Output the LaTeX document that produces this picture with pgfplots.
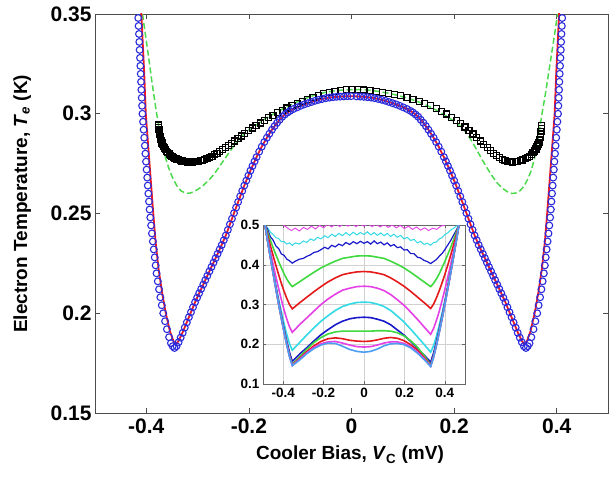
\documentclass[border=0pt]{standalone}
\usepackage{pgfplots}
\pgfplotsset{compat=1.18}
\usepackage{fontspec}
\setmainfont{Liberation Sans}
\definecolor{mblue}{rgb}{0.17,0.17,0.86}
\definecolor{mred}{rgb}{0.92,0.10,0.15}
\definecolor{mgreen}{rgb}{0.30,0.85,0.30}
\definecolor{ilb}{rgb}{0.30,0.62,0.95}
\definecolor{imag}{rgb}{0.90,0.25,0.90}
\definecolor{ired}{rgb}{0.90,0.10,0.10}
\definecolor{igreen}{rgb}{0.25,0.85,0.25}
\definecolor{iblue}{rgb}{0.10,0.10,0.80}
\definecolor{icyan}{rgb}{0.20,0.85,0.90}
\begin{document}
\begin{tikzpicture}[x=1pt,y=1pt]
\path[use as bounding box] (0,0) rectangle (609,477);
\begin{axis}[
  at={(95pt,64pt)}, anchor=south west,
  width=513pt, height=399pt, scale only axis,
  xmin=-0.5, xmax=0.5, ymin=0.15, ymax=0.35,
  xtick={-0.4,-0.2,0,0.2,0.4},
  xticklabels={-0.4,-0.2,0,0.2,0.4},
  ytick={0.15,0.2,0.25,0.3,0.35},
  yticklabels={0.15,0.2,0.25,0.3,0.35},
  tick align=inside, major tick length=5pt,
  axis line style={draw=black!70, line width=0.8pt},
  tick style={draw=black!70, line width=0.7pt},
  tick label style={font=\fontsize{21}{24}\selectfont\bfseries},
  xticklabel style={yshift=-2pt},
  xlabel={Cooler Bias, \textit{V}\textsubscript{C} (mV)},
  ylabel={Electron Temperature, \textit{T}\textsubscript{\textit{e}} (K)},
  label style={font=\fontsize{19}{22}\selectfont\bfseries},
  xlabel style={at={(axis description cs:0.497,-0.105)}, anchor=center},
  ylabel style={at={(axis description cs:-0.142,0.524)}, anchor=center},
]
% black squares (data)
\addplot[only marks, mark=square, mark size=3pt, mark options={line width=1.25pt, draw=black}] coordinates {
(-0.3765,0.2944) (-0.3760,0.2932) (-0.3754,0.2920) (-0.3747,0.2908) (-0.3739,0.2896) (-0.3730,0.2885) (-0.3720,0.2874) (-0.3708,0.2864) (-0.3695,0.2854) (-0.3680,0.2845) (-0.3663,0.2836) (-0.3645,0.2828) (-0.3625,0.2820) (-0.3603,0.2812) (-0.3580,0.2805) (-0.3555,0.2798) (-0.3528,0.2792) (-0.3500,0.2787) (-0.3470,0.2782) (-0.3440,0.2777) (-0.3408,0.2773) (-0.3375,0.2769) (-0.3340,0.2766) (-0.3305,0.2763) (-0.3268,0.2761) (-0.3230,0.2759) (-0.3190,0.2758) (-0.3150,0.2758) (-0.3110,0.2758) (-0.3070,0.2759) (-0.3030,0.2760) (-0.2990,0.2762) (-0.2950,0.2764) (-0.2905,0.2767) (-0.2860,0.2771) (-0.2815,0.2776) (-0.2770,0.2781) (-0.2720,0.2787) (-0.2670,0.2794) (-0.2620,0.2802) (-0.2570,0.2810) (-0.2515,0.2819) (-0.2460,0.2829) (-0.2400,0.2840) (-0.2340,0.2851) (-0.2280,0.2863) (-0.2215,0.2876) (-0.2150,0.2889) (-0.2080,0.2902) (-0.2010,0.2915) (-0.1935,0.2928) (-0.1860,0.2941) (-0.1780,0.2954) (-0.1700,0.2967) (-0.1615,0.2980) (-0.1530,0.2993) (-0.1440,0.3005) (-0.1350,0.3017) (-0.1255,0.3029) (-0.1160,0.3041) (-0.1060,0.3052) (-0.0960,0.3063) (-0.0855,0.3073) (-0.0750,0.3083) (-0.0645,0.3092) (-0.0540,0.3100) (-0.0430,0.3106) (-0.0320,0.3112) (-0.0210,0.3117) (-0.0100,0.3120) (0.0010,0.3122)
(0.012,0.3121) (0.024,0.3119) (0.036,0.3116) (0.048,0.3112) (0.060,0.3108) (0.072,0.3103) (0.084,0.3097) (0.096,0.3090) (0.108,0.3082) (0.120,0.3073) (0.132,0.3063) (0.143,0.3052) (0.154,0.3040) (0.165,0.3027) (0.175,0.3013) (0.185,0.2999) (0.195,0.2983) (0.204,0.2967) (0.213,0.2950) (0.221,0.2933) (0.229,0.2916) (0.237,0.2898) (0.244,0.2881) (0.251,0.2864) (0.258,0.2847) (0.265,0.2831) (0.271,0.2816) (0.277,0.2802) (0.283,0.2790) (0.289,0.2780) (0.294,0.2772) (0.299,0.2766) (0.304,0.2762) (0.309,0.2759) (0.314,0.2758) (0.319,0.2759) (0.324,0.2761) (0.329,0.2764) (0.334,0.2768) (0.339,0.2774) (0.343,0.2780) (0.347,0.2787) (0.351,0.2795) (0.354,0.2804) (0.357,0.2813) (0.3595,0.2823) (0.3617,0.2834) (0.3637,0.2845) (0.3655,0.2857) (0.3670,0.2870) (0.3682,0.2884) (0.3690,0.2898) (0.3696,0.2912) (0.3700,0.2926) (0.3703,0.2940)
};
% green dashed (theory)
\addplot[mgreen, line width=1.5pt, dash pattern=on 6pt off 3pt] coordinates {
(-0.4075,0.350) (-0.398,0.333) (-0.389,0.316) (-0.381,0.302) (-0.375,0.2925) (-0.369,0.2845) (-0.362,0.2775) (-0.355,0.2718) (-0.348,0.2675) (-0.340,0.2637) (-0.332,0.2613) (-0.323,0.2601) (-0.315,0.2602) (-0.307,0.2610) (-0.299,0.2622) (-0.291,0.2636) (-0.283,0.2655) (-0.275,0.2676) (-0.267,0.2700) (-0.259,0.2730) (-0.250,0.2763) (-0.240,0.2800) (-0.230,0.2837) (-0.220,0.2870) (-0.210,0.2897) (-0.200,0.2918) (-0.185,0.2945) (-0.170,0.2972) (-0.150,0.3002) (-0.130,0.3030) (-0.110,0.3055) (-0.090,0.3077) (-0.070,0.3095) (-0.050,0.3108) (-0.030,0.3116) (-0.010,0.3120) (0.010,0.3121) (0.030,0.3119) (0.050,0.3113) (0.070,0.3104) (0.090,0.3092) (0.110,0.3078) (0.130,0.3060) (0.150,0.3038) (0.170,0.3012) (0.190,0.2980) (0.205,0.2952) (0.214,0.2935) (0.225,0.2900) (0.235,0.2860) (0.245,0.2815) (0.255,0.2768) (0.265,0.2725) (0.275,0.2685) (0.285,0.2650) (0.295,0.2625) (0.305,0.2607) (0.313,0.2600) (0.321,0.2603) (0.329,0.2615) (0.337,0.2640) (0.344,0.2675) (0.351,0.2720) (0.357,0.2780) (0.362,0.2850) (0.367,0.2930) (0.372,0.3010) (0.378,0.3100) (0.384,0.3200) (0.390,0.3300) (0.396,0.3400) (0.4016,0.350)
};
% blue circles (data)
\addplot[only marks, mark=o, mark size=3.4pt, mark options={line width=1.1pt, draw=mblue}] coordinates {
(-0.4163,0.352) (-0.4157,0.348) (-0.4150,0.344) (-0.4143,0.340) (-0.4136,0.336) (-0.4130,0.332) (-0.4123,0.328) (-0.4116,0.324) (-0.4109,0.320) (-0.4102,0.316) (-0.4096,0.312) (-0.4089,0.308) (-0.4082,0.304) (-0.4075,0.300) (-0.4063,0.296) (-0.4052,0.292) (-0.4040,0.288) (-0.4028,0.284) (-0.4017,0.280) (-0.4005,0.276) (-0.3994,0.272) (-0.3982,0.268) (-0.3971,0.264) (-0.3959,0.260) (-0.3947,0.256) (-0.3936,0.252) (-0.3922,0.248) (-0.3906,0.244) (-0.3890,0.240) (-0.3872,0.236) (-0.3854,0.232) (-0.3836,0.228) (-0.3818,0.224) (-0.3800,0.220) (-0.3776,0.216) (-0.3752,0.212) (-0.3726,0.208) (-0.3698,0.204) (-0.3670,0.200) (-0.3634,0.196) (-0.3598,0.192) (-0.3556,0.188) (-0.3520,0.185) (-0.3485,0.1835) (-0.345,0.1826)
(-0.341,0.1835) (-0.337,0.1855) (-0.333,0.1878) (-0.329,0.1902) (-0.325,0.1928) (-0.321,0.1954) (-0.317,0.1980) (-0.313,0.2005) (-0.309,0.2030) (-0.305,0.2055) (-0.301,0.2078) (-0.297,0.2100) (-0.293,0.2122) (-0.289,0.2144) (-0.285,0.2166) (-0.281,0.2188) (-0.277,0.2210) (-0.273,0.2232) (-0.269,0.2254) (-0.265,0.2276) (-0.261,0.2298) (-0.257,0.2320) (-0.253,0.2342) (-0.249,0.2366) (-0.245,0.2390) (-0.241,0.2418) (-0.237,0.2446) (-0.233,0.2474) (-0.229,0.2502) (-0.225,0.2530) (-0.221,0.2558) (-0.217,0.2586) (-0.213,0.2613) (-0.209,0.2640) (-0.205,0.2665) (-0.201,0.2690) (-0.197,0.2715) (-0.193,0.2738) (-0.189,0.2761) (-0.185,0.2783) (-0.180,0.2810) (-0.175,0.2835) (-0.170,0.2858) (-0.165,0.2880) (-0.160,0.2900) (-0.155,0.2920) (-0.150,0.2938) (-0.145,0.2955) (-0.140,0.2970) (-0.135,0.2985) (-0.130,0.2996) (-0.125,0.3006) (-0.120,0.3014) (-0.113,0.3024) (-0.106,0.3032) (-0.099,0.3040) (-0.092,0.3047) (-0.085,0.3053) (-0.078,0.3059) (-0.071,0.3065) (-0.064,0.3070) (-0.057,0.3074) (-0.050,0.3078) (-0.043,0.3081) (-0.036,0.3083) (-0.029,0.3085) (-0.022,0.3086) (-0.015,0.3087) (-0.008,0.3088) (-0.001,0.3088)
(0.010,0.3087) (0.017,0.3086) (0.024,0.3085) (0.031,0.3083) (0.038,0.3081) (0.045,0.3078) (0.052,0.3074) (0.059,0.3070) (0.066,0.3065) (0.073,0.3059) (0.080,0.3053) (0.087,0.3047) (0.094,0.3040) (0.101,0.3032) (0.108,0.3024) (0.115,0.3014) (0.120,0.3006) (0.125,0.2996) (0.130,0.2985) (0.135,0.2970) (0.140,0.2955) (0.145,0.2938) (0.150,0.2920) (0.155,0.2900) (0.160,0.2880) (0.165,0.2858) (0.170,0.2835) (0.175,0.2810) (0.180,0.2783) (0.184,0.2761) (0.188,0.2738) (0.192,0.2715) (0.196,0.2690) (0.200,0.2665) (0.204,0.2640) (0.208,0.2613) (0.212,0.2586) (0.216,0.2558) (0.220,0.2530) (0.224,0.2502) (0.228,0.2474) (0.232,0.2446) (0.236,0.2418) (0.240,0.2390) (0.244,0.2366) (0.248,0.2342) (0.252,0.2320) (0.256,0.2298) (0.260,0.2276) (0.264,0.2254) (0.268,0.2232) (0.272,0.2210) (0.276,0.2188) (0.280,0.2166) (0.284,0.2144) (0.288,0.2122) (0.292,0.2100) (0.296,0.2078) (0.300,0.2055) (0.304,0.2030) (0.308,0.2005) (0.312,0.1980) (0.316,0.1954) (0.320,0.1928) (0.324,0.1902) (0.328,0.1878) (0.332,0.1855) (0.336,0.1835) (0.340,0.1826)
(0.3435,0.1835) (0.347,0.185) (0.3506,0.188) (0.3548,0.192) (0.3584,0.196) (0.3620,0.200) (0.3648,0.204) (0.3676,0.208) (0.3702,0.212) (0.3726,0.216) (0.3750,0.220) (0.3768,0.224) (0.3786,0.228) (0.3804,0.232) (0.3822,0.236) (0.3840,0.240) (0.3856,0.244) (0.3872,0.248) (0.3886,0.252) (0.3897,0.256) (0.3909,0.260) (0.3921,0.264) (0.3932,0.268) (0.3944,0.272) (0.3955,0.276) (0.3967,0.280) (0.3978,0.284) (0.3990,0.288) (0.4002,0.292) (0.4013,0.296) (0.4025,0.300) (0.4032,0.304) (0.4039,0.308) (0.4046,0.312) (0.4052,0.316) (0.4059,0.320) (0.4066,0.324) (0.4073,0.328) (0.4080,0.332) (0.4086,0.336) (0.4093,0.340) (0.4100,0.344) (0.4107,0.348) (0.4113,0.352)
};
% red line (theory)
\addplot[mred, line width=1.8pt] coordinates {
(-0.410,0.352) (-0.404,0.320) (-0.401,0.300) (-0.394,0.276) (-0.387,0.252) (-0.382,0.236) (-0.376,0.222) (-0.369,0.210) (-0.362,0.200) (-0.354,0.191) (-0.347,0.186) (-0.342,0.1845) (-0.337,0.1862) (-0.329,0.1905) (-0.317,0.1980) (-0.305,0.2055) (-0.293,0.2122) (-0.281,0.2188) (-0.269,0.2254) (-0.257,0.2320) (-0.245,0.2390) (-0.233,0.2474) (-0.221,0.2558) (-0.209,0.2640) (-0.197,0.2715) (-0.185,0.2783) (-0.175,0.2835) (-0.165,0.2880) (-0.155,0.2920) (-0.145,0.2955) (-0.135,0.2985) (-0.125,0.3006) (-0.113,0.3024) (-0.099,0.3040) (-0.085,0.3053) (-0.071,0.3065) (-0.057,0.3074) (-0.043,0.3081) (-0.029,0.3085) (-0.015,0.3087) (-0.003,0.3088) (0.010,0.3087) (0.024,0.3085) (0.038,0.3081) (0.052,0.3074) (0.066,0.3065) (0.080,0.3053) (0.094,0.3040) (0.108,0.3024) (0.120,0.3006) (0.130,0.2985) (0.140,0.2955) (0.150,0.2920) (0.160,0.2880) (0.170,0.2835) (0.180,0.2783) (0.192,0.2715) (0.204,0.2640) (0.216,0.2558) (0.228,0.2474) (0.240,0.2390) (0.252,0.2320) (0.264,0.2254) (0.276,0.2188) (0.288,0.2122) (0.300,0.2055) (0.312,0.1980) (0.324,0.1905) (0.332,0.1862) (0.337,0.1845) (0.342,0.186) (0.349,0.191) (0.357,0.200) (0.364,0.210) (0.371,0.222) (0.377,0.236) (0.382,0.252) (0.389,0.276) (0.396,0.300) (0.399,0.320) (0.405,0.352)
};
\end{axis}
% ---------- inset ----------
\begin{axis}[
  at={(263pt,93pt)}, anchor=south west,
  width=202pt, height=159pt, scale only axis,
  xmin=-0.5, xmax=0.5, ymin=0.1, ymax=0.5,
  xtick={-0.4,-0.2,0,0.2,0.4},
  xticklabels={-0.4,-0.2,0,0.2,0.4},
  ytick={0.1,0.2,0.3,0.4,0.5},
  yticklabels={0.1,0.2,0.3,0.4,0.5},
  tick align=inside, major tick length=3pt,
  grid=major, grid style={black!18, line width=0.4pt},
  axis background/.style={fill=white},
  axis line style={draw=black!60, line width=0.8pt},
  tick style={draw=black!60, line width=0.5pt},
  tick label style={font=\fontsize{13.5}{15}\selectfont\bfseries},
  xticklabel style={yshift=-1pt},
  every axis plot/.append style={line width=1.6pt},
]
% 12 magenta noisy
\addplot[imag, line width=0.9pt] coordinates {(-0.40,0.5) (-0.38,0.493) (-0.36,0.486) (-0.34,0.492) (-0.32,0.485) (-0.30,0.494) (-0.28,0.489) (-0.26,0.497) (-0.24,0.490) (-0.22,0.499) (-0.20,0.493) (-0.18,0.502) (-0.16,0.495) (-0.14,0.503) (-0.12,0.496) (-0.10,0.504) (-0.08,0.497) (-0.06,0.503) (-0.04,0.496) (-0.02,0.502) (0,0.497) (0.02,0.503) (0.04,0.496) (0.06,0.502) (0.08,0.495) (0.10,0.501) (0.12,0.494) (0.14,0.500) (0.16,0.493) (0.18,0.499) (0.20,0.491) (0.22,0.497) (0.24,0.489) (0.26,0.495) (0.28,0.487) (0.30,0.493) (0.32,0.486) (0.34,0.492) (0.36,0.489) (0.38,0.497) (0.40,0.5)};
% 11 cyan noisy
\addplot[icyan, line width=1pt] coordinates {(-0.49,0.5) (-0.477,0.493) (-0.463,0.482) (-0.45,0.476) (-0.436,0.468) (-0.423,0.466) (-0.409,0.458) (-0.396,0.458) (-0.382,0.452) (-0.369,0.455) (-0.355,0.449) (-0.34,0.455) (-0.32,0.452) (-0.30,0.460) (-0.284,0.456) (-0.265,0.465) (-0.248,0.461) (-0.23,0.469) (-0.213,0.465) (-0.195,0.473) (-0.178,0.468) (-0.16,0.477) (-0.142,0.471) (-0.125,0.479) (-0.107,0.473) (-0.09,0.481) (-0.071,0.474) (-0.053,0.482) (-0.035,0.475) (-0.018,0.481) (0,0.476) (0.017,0.483) (0.033,0.475) (0.05,0.481) (0.066,0.474) (0.083,0.480) (0.099,0.473) (0.115,0.479) (0.132,0.471) (0.148,0.477) (0.165,0.469) (0.181,0.474) (0.198,0.465) (0.214,0.469) (0.231,0.461) (0.247,0.464) (0.264,0.455) (0.28,0.459) (0.297,0.451) (0.313,0.454) (0.33,0.449) (0.344,0.456) (0.358,0.457) (0.372,0.465) (0.386,0.468) (0.40,0.476) (0.414,0.480) (0.428,0.487) (0.442,0.491) (0.456,0.497) (0.47,0.5)};
% 10 blue noisy
\addplot[iblue, line width=1.2pt] coordinates {(-0.49,0.5) (-0.477,0.489) (-0.463,0.470) (-0.45,0.462) (-0.436,0.447) (-0.423,0.441) (-0.409,0.427) (-0.396,0.424) (-0.382,0.414) (-0.369,0.410) (-0.355,0.404) (-0.34,0.409) (-0.32,0.414) (-0.30,0.416) (-0.284,0.421) (-0.265,0.425) (-0.248,0.431) (-0.23,0.433) (-0.213,0.438) (-0.195,0.444) (-0.178,0.440) (-0.16,0.449) (-0.142,0.445) (-0.125,0.452) (-0.107,0.448) (-0.09,0.456) (-0.071,0.451) (-0.053,0.458) (-0.035,0.453) (-0.018,0.459) (0,0.454) (0.017,0.458) (0.033,0.452) (0.05,0.460) (0.066,0.453) (0.083,0.457) (0.099,0.450) (0.115,0.455) (0.132,0.447) (0.148,0.451) (0.165,0.443) (0.181,0.445) (0.198,0.437) (0.214,0.438) (0.231,0.428) (0.247,0.428) (0.264,0.419) (0.28,0.417) (0.297,0.411) (0.313,0.408) (0.33,0.403) (0.344,0.408) (0.358,0.413) (0.372,0.421) (0.386,0.428) (0.40,0.438) (0.414,0.449) (0.428,0.460) (0.442,0.473) (0.456,0.486) (0.47,0.5)};
% 9 green
\addplot[igreen] coordinates {(-0.49,0.5) (-0.4765,0.480) (-0.463,0.461) (-0.4495,0.442) (-0.436,0.425) (-0.4225,0.408) (-0.409,0.392) (-0.3955,0.377) (-0.382,0.364) (-0.3685,0.353) (-0.355,0.345) (-0.3195,0.357) (-0.284,0.369) (-0.2485,0.381) (-0.213,0.392) (-0.1775,0.401) (-0.142,0.409) (-0.1065,0.416) (-0.071,0.419) (-0.0355,0.422) (0,0.4225) (0.033,0.422) (0.066,0.419) (0.099,0.416) (0.132,0.409) (0.165,0.401) (0.198,0.392) (0.231,0.381) (0.264,0.369) (0.297,0.357) (0.33,0.345) (0.344,0.353) (0.358,0.364) (0.372,0.377) (0.386,0.392) (0.400,0.408) (0.414,0.425) (0.428,0.442) (0.442,0.461) (0.456,0.480) (0.470,0.5)};
% 8 red
\addplot[ired] coordinates {(-0.49,0.5) (-0.4765,0.473) (-0.463,0.447) (-0.4495,0.422) (-0.436,0.398) (-0.4225,0.375) (-0.409,0.353) (-0.3955,0.333) (-0.382,0.315) (-0.3685,0.2996) (-0.355,0.289) (-0.3195,0.304) (-0.284,0.318) (-0.2485,0.332) (-0.213,0.345) (-0.1775,0.357) (-0.142,0.367) (-0.1065,0.375) (-0.071,0.379) (-0.0355,0.382) (0,0.383) (0.033,0.382) (0.066,0.379) (0.099,0.375) (0.132,0.367) (0.165,0.357) (0.198,0.346) (0.231,0.333) (0.264,0.319) (0.297,0.305) (0.33,0.290) (0.344,0.3005) (0.358,0.316) (0.372,0.334) (0.386,0.354) (0.400,0.375) (0.414,0.398) (0.428,0.422) (0.442,0.447) (0.456,0.473) (0.470,0.5)};
% 7 magenta
\addplot[imag] coordinates {(-0.49,0.5) (-0.4765,0.465) (-0.463,0.432) (-0.4495,0.400) (-0.436,0.369) (-0.4225,0.340) (-0.409,0.312) (-0.3955,0.286) (-0.382,0.263) (-0.3685,0.2435) (-0.355,0.230) (-0.3195,0.249) (-0.284,0.266) (-0.2485,0.283) (-0.213,0.300) (-0.1775,0.314) (-0.142,0.326) (-0.1065,0.336) (-0.071,0.341) (-0.0355,0.345) (0,0.346) (0.033,0.345) (0.066,0.341) (0.099,0.335) (0.132,0.325) (0.165,0.312) (0.198,0.298) (0.231,0.281) (0.264,0.263) (0.297,0.244) (0.33,0.225) (0.344,0.239) (0.358,0.259) (0.372,0.282) (0.386,0.309) (0.400,0.337) (0.414,0.367) (0.428,0.398) (0.442,0.431) (0.456,0.465) (0.470,0.5)};
% 6 cyan
\addplot[icyan] coordinates {(-0.49,0.5) (-0.4765,0.460) (-0.463,0.421) (-0.4495,0.383) (-0.436,0.347) (-0.4225,0.313) (-0.409,0.281) (-0.3955,0.251) (-0.382,0.224) (-0.3685,0.201) (-0.355,0.185) (-0.3195,0.204) (-0.284,0.223) (-0.2485,0.241) (-0.213,0.258) (-0.1775,0.272) (-0.142,0.285) (-0.1065,0.295) (-0.071,0.301) (-0.0355,0.305) (0,0.306) (0.033,0.305) (0.066,0.301) (0.099,0.295) (0.132,0.285) (0.165,0.271) (0.198,0.256) (0.231,0.238) (0.264,0.219) (0.297,0.200) (0.33,0.180) (0.344,0.196) (0.358,0.219) (0.372,0.247) (0.386,0.277) (0.400,0.310) (0.414,0.345) (0.428,0.381) (0.442,0.419) (0.456,0.459) (0.470,0.5)};
% 5 blue
\addplot[iblue] coordinates {(-0.49,0.5) (-0.4765,0.459) (-0.463,0.419) (-0.4495,0.381) (-0.436,0.343) (-0.4225,0.306) (-0.409,0.271) (-0.3955,0.238) (-0.382,0.207) (-0.3685,0.179) (-0.355,0.157) (-0.3195,0.175) (-0.284,0.191) (-0.2485,0.208) (-0.213,0.224) (-0.1775,0.237) (-0.142,0.249) (-0.1065,0.258) (-0.071,0.264) (-0.0355,0.267) (0,0.268) (0.033,0.267) (0.066,0.263) (0.099,0.258) (0.132,0.249) (0.165,0.236) (0.198,0.223) (0.231,0.207) (0.264,0.190) (0.297,0.173) (0.33,0.155) (0.344,0.177) (0.358,0.205) (0.372,0.236) (0.386,0.270) (0.400,0.305) (0.414,0.342) (0.428,0.380) (0.442,0.419) (0.456,0.459) (0.470,0.5)};
% 4 green
\addplot[igreen] coordinates {(-0.49,0.5) (-0.4765,0.458) (-0.463,0.418) (-0.4495,0.378) (-0.436,0.340) (-0.4225,0.302) (-0.409,0.267) (-0.3955,0.233) (-0.382,0.201) (-0.3685,0.172) (-0.355,0.150) (-0.3195,0.168) (-0.284,0.187) (-0.2485,0.204) (-0.213,0.217) (-0.1775,0.226) (-0.142,0.231) (-0.1065,0.233) (-0.071,0.233) (-0.0355,0.233) (0,0.233) (0.033,0.233) (0.066,0.234) (0.099,0.234) (0.132,0.233) (0.165,0.229) (0.198,0.221) (0.231,0.209) (0.264,0.193) (0.297,0.172) (0.33,0.148) (0.344,0.170) (0.358,0.199) (0.372,0.231) (0.386,0.265) (0.400,0.301) (0.414,0.339) (0.428,0.378) (0.442,0.417) (0.456,0.458) (0.470,0.5)};
% 3 red
\addplot[ired] coordinates {(-0.49,0.5) (-0.4765,0.458) (-0.463,0.417) (-0.4495,0.378) (-0.436,0.339) (-0.4225,0.301) (-0.409,0.265) (-0.3955,0.231) (-0.382,0.199) (-0.3685,0.170) (-0.355,0.148) (-0.3195,0.164) (-0.284,0.181) (-0.2485,0.196) (-0.213,0.207) (-0.1775,0.214) (-0.142,0.216) (-0.1065,0.214) (-0.071,0.210) (-0.0355,0.208) (0,0.207) (0.033,0.208) (0.066,0.211) (0.099,0.215) (0.132,0.217) (0.165,0.215) (0.198,0.209) (0.231,0.199) (0.264,0.185) (0.297,0.167) (0.33,0.146) (0.344,0.168) (0.358,0.197) (0.372,0.230) (0.386,0.264) (0.400,0.300) (0.414,0.338) (0.428,0.377) (0.442,0.417) (0.456,0.458) (0.470,0.5)};
% 2 magenta
\addplot[imag] coordinates {(-0.49,0.5) (-0.4765,0.458) (-0.463,0.417) (-0.4495,0.377) (-0.436,0.338) (-0.4225,0.301) (-0.409,0.265) (-0.3955,0.230) (-0.382,0.198) (-0.3685,0.169) (-0.355,0.147) (-0.3195,0.162) (-0.284,0.178) (-0.2485,0.192) (-0.213,0.201) (-0.1775,0.206) (-0.142,0.207) (-0.1065,0.203) (-0.071,0.198) (-0.0355,0.194) (0,0.193) (0.033,0.194) (0.066,0.198) (0.099,0.203) (0.132,0.206) (0.165,0.206) (0.198,0.202) (0.231,0.194) (0.264,0.181) (0.297,0.164) (0.33,0.145) (0.344,0.167) (0.358,0.196) (0.372,0.229) (0.386,0.263) (0.400,0.299) (0.414,0.337) (0.428,0.376) (0.442,0.417) (0.456,0.458) (0.470,0.5)};
% 1 light blue
\addplot[ilb] coordinates {(-0.49,0.5) (-0.4765,0.458) (-0.463,0.417) (-0.4495,0.377) (-0.436,0.338) (-0.4225,0.300) (-0.409,0.264) (-0.3955,0.230) (-0.382,0.197) (-0.3685,0.168) (-0.355,0.146) (-0.3195,0.160) (-0.284,0.176) (-0.2485,0.189) (-0.213,0.198) (-0.1775,0.203) (-0.142,0.202) (-0.1065,0.195) (-0.071,0.187) (-0.0355,0.182) (0,0.180) (0.033,0.182) (0.066,0.188) (0.099,0.196) (0.132,0.201) (0.165,0.202) (0.198,0.199) (0.231,0.191) (0.264,0.178) (0.297,0.162) (0.33,0.144) (0.344,0.166) (0.358,0.196) (0.372,0.228) (0.386,0.263) (0.400,0.299) (0.414,0.337) (0.428,0.376) (0.442,0.416) (0.456,0.458) (0.470,0.5)};
\end{axis}
\end{tikzpicture}
\end{document}
